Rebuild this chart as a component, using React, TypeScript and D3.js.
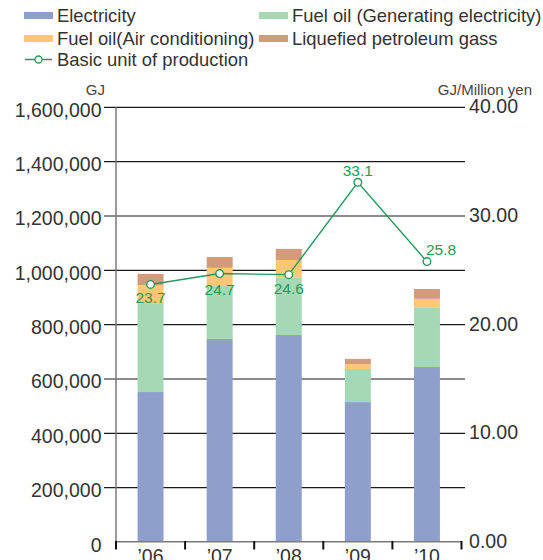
import React from "react";
import * as d3 from "d3";

const years = ["’06", "’07", "’08", "’09", "’10"];
const electricity = [552000, 747000, 762000, 515000, 644000];
const fuelGen = [324000, 195000, 212000, 122000, 218000];
const fuelAir = [70000, 67000, 64000, 18000, 33000];
const lpg = [41000, 40000, 41000, 19000, 36000];
const unitValues = [23.7, 24.7, 24.6, 33.1, 25.8];
const leftTicks = [0, 200000, 400000, 600000, 800000, 1000000, 1200000, 1400000, 1600000];
const rightTicks = [0, 10, 20, 30, 40];

const seriesKeys = ["electricity", "fuelGen", "fuelAir", "lpg"];
const seriesNames = [
  "Electricity",
  "Fuel oil (Generating electricity)",
  "Fuel oil(Air conditioning)",
  "Liquefied petroleum gass",
];
const seriesColors = ["#8f9fcb", "#a5d8b4", "#fdc776", "#d39a7c"];
const lineColor = "#1f9a5a";
const textColor = "#333";
const font = "'Liberation Sans', Arial, sans-serif";

export default function App() {
  const W = 543, H = 560;
  const x = d3.scaleBand<string>().domain(years).range([116, 461.5]).paddingInner(0.624).paddingOuter(0.312);
  const yL = d3.scaleLinear().domain([0, 1600000]).range([542, 107.3]);
  const yR = d3.scaleLinear().domain([0, 40]).range([542, 107.3]);

  const table = years.map((y, i) => ({
    year: y,
    electricity: electricity[i],
    fuelGen: fuelGen[i],
    fuelAir: fuelAir[i],
    lpg: lpg[i],
  }));
  const stacked = d3.stack<any>().keys(seriesKeys)(table);

  const cx = (i: number) => (x(years[i]) as number) + x.bandwidth() / 2;
  const line = d3.line<number>().x((_, i) => cx(i)).y((d) => yR(d));

  const labelOffsets = [
    { dx: 0, dy: 19, anchor: "middle" },
    { dx: 0, dy: 21, anchor: "middle" },
    { dx: 0, dy: 19, anchor: "middle" },
    { dx: 0, dy: -6, anchor: "middle" },
    { dx: -1, dy: -7, anchor: "start" },
  ];
  const fmt = d3.format(",");

  const legendItems = [
    { x: 24, y: 16, i: 0 },
    { x: 259, y: 16, i: 1 },
    { x: 24, y: 39, i: 2 },
    { x: 259, y: 39, i: 3 },
  ];

  return (
    <svg width={W} height={H} style={{ position: "absolute", left: 0, top: 0 }} fontFamily={font}>
      {/* legend */}
      {legendItems.map((l) => (
        <g key={l.i}>
          <rect x={l.x} y={l.y - 4} width={29} height={7} fill={seriesColors[l.i]} />
          <text x={l.x + 33} y={l.y + 5.5} fontSize={18.4} fill={textColor}>{seriesNames[l.i]}</text>
        </g>
      ))}
      <g>
        <line x1={25} x2={52} y1={59.5} y2={59.5} stroke={lineColor} strokeWidth={1.5} />
        <circle cx={38.5} cy={59.5} r={3.5} fill="#fff" stroke={lineColor} strokeWidth={1.3} />
        <text x={57} y={65.5} fontSize={18.4} fill={textColor}>Basic unit of production</text>
      </g>

      {/* unit labels */}
      <text x={105} y={95} fontSize={15} fill="#444" textAnchor="end">GJ</text>
      <text x={532} y={95} fontSize={15} fill="#444" textAnchor="end">GJ/Million yen</text>

      {/* gridlines */}
      {leftTicks.filter((t) => t > 0).map((t) => (
        <line key={t} x1={104} x2={465} y1={yL(t)} y2={yL(t)} stroke="#1a1a1a" strokeWidth={1.2} />
      ))}

      {/* left labels */}
      {leftTicks.map((t) => (
        <text key={t} x={101.5} y={yL(t) + 9.5} fontSize={19.5} fill={textColor} textAnchor="end">{fmt(t)}</text>
      ))}
      {/* right labels */}
      {rightTicks.map((t) => (
        <text key={t} x={469} y={yR(t) + 6} fontSize={19.6} fill={textColor}>{t.toFixed(2)}</text>
      ))}

      {/* bars */}
      {stacked.map((s, si) => (
        <g key={si} fill={seriesColors[si]}>
          {s.map((d, i) => (
            <rect key={i} x={x(years[i])} y={yL(d[1])} width={x.bandwidth()} height={yL(d[0]) - yL(d[1])} />
          ))}
        </g>
      ))}

      {/* axes */}
      <line x1={116} x2={116} y1={yL(1600000)} y2={542} stroke="#7a7a7a" strokeWidth={1.5} />
      <line x1={116} x2={461.5} y1={541.7} y2={541.7} stroke="#7a7a7a" strokeWidth={1.5} />
      {d3.range(years.length + 1).map((k) => {
        const xx = 116 + k * x.step();
        return <line key={k} x1={xx} x2={xx} y1={541} y2={549.5} stroke="#111" strokeWidth={2} />;
      })}
      {years.map((y, i) => (
        <text key={y} x={cx(i)} y={563} fontSize={19.5} fill={textColor} textAnchor="middle">{y}</text>
      ))}

      {/* line */}
      <path d={line(unitValues) || ""} fill="none" stroke={lineColor} strokeWidth={1.4} />
      {unitValues.map((v, i) => (
        <circle key={i} cx={cx(i)} cy={yR(v)} r={3.8} fill="#fff" stroke={lineColor} strokeWidth={1.4} />
      ))}
      {unitValues.map((v, i) => (
        <text
          key={i}
          x={cx(i) + labelOffsets[i].dx}
          y={yR(v) + labelOffsets[i].dy}
          fontSize={15.5}
          fill={lineColor}
          textAnchor={labelOffsets[i].anchor as any}
        >
          {v.toFixed(1)}
        </text>
      ))}
    </svg>
  );
}
